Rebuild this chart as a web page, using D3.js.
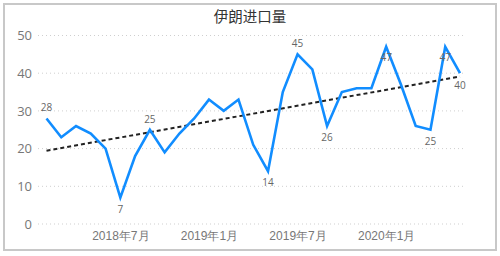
<!DOCTYPE html>
<html>
<head>
<meta charset="utf-8">
<script src="https://cdn.jsdelivr.net/npm/d3@7/dist/d3.min.js"></script>
<style>
  body { margin: 0; background: #fff; }
  svg { display: block; font-family: "Open Sans", "Noto Sans CJK SC", sans-serif; }
  .frame { fill: #fff; stroke: #c8c8c8; stroke-width: 2; }
  .grid line { stroke: #cfcfcf; stroke-dasharray: 1 3; }
  .axis text { fill: #777; }
  .axis path, .axis line { display: none; }
  .lbl { fill: #666; font-size: 10px; text-anchor: middle; }
</style>
</head>
<body>
<svg width="500" height="256"></svg>
<script>
// months from 2018-02 to 2020-06
const months = ['2018-02','2018-03','2018-04','2018-05','2018-06','2018-07','2018-08','2018-09','2018-10','2018-11','2018-12',
  '2019-01','2019-02','2019-03','2019-04','2019-05','2019-06','2019-07','2019-08','2019-09','2019-10','2019-11','2019-12',
  '2020-01','2020-02','2020-03','2020-04','2020-05','2020-06'];
const values = [28, 23, 26, 24, 20, 7, 18, 25, 19, 24, 28,
  33, 30, 33, 21, 14, 35, 45, 41, 26, 35, 36, 36,
  47, 37, 26, 25, 47, 40];
const xTicks = ['2018-07', '2019-01', '2019-07', '2020-01'];
const yTicks = [0, 10, 20, 30, 40, 50];
// which points carry a label, and where: 'a' above, 'b' below, 'r' below right
const labelled = [[0,'a'],[5,'b'],[7,'a'],[15,'b'],[17,'a'],[19,'b'],[23,'i'],[26,'b'],[27,'i'],[28,'r']];

const svg = d3.select('svg');
svg.append('rect').attr('class', 'frame').attr('x', 4).attr('y', 4).attr('width', 492).attr('height', 246);

svg.append('text')
  .attr('x', 250).attr('y', 22)
  .attr('text-anchor', 'middle')
  .attr('font-size', 14.5)
  .attr('fill', '#333')
  .text('伊朗进口量');

const x = d3.scalePoint().domain(months).range([46.5, 460]);
const y = d3.scaleLinear().domain([0, 50]).range([224, 35.5]);

// gridlines
svg.append('g').attr('class', 'grid')
  .selectAll('line').data(yTicks).enter().append('line')
  .attr('x1', 38).attr('x2', 465)
  .attr('y1', d => y(d)).attr('y2', d => y(d));

// y axis
svg.append('g').attr('class', 'axis')
  .attr('transform', 'translate(32,0)')
  .call(d3.axisLeft(y).tickValues(yTicks).tickSize(0).tickPadding(0))
  .selectAll('text').attr('font-size', 13).attr('font-family', '"Open Sans", sans-serif');

// x axis
svg.append('g').attr('class', 'axis')
  .attr('transform', 'translate(0,228)')
  .call(d3.axisBottom(x).tickValues(xTicks).tickSize(0).tickPadding(3)
    .tickFormat(m => { const [yy, mm] = m.split('-'); return yy + '年' + (+mm) + '月'; }))
  .selectAll('text').attr('font-size', 12);

// trend line (least squares)
const n = values.length;
const mx = d3.mean(values, (v, i) => i);
const my = d3.mean(values);
const slope = d3.sum(values, (v, i) => (i - mx) * (v - my)) / d3.sum(values, (v, i) => (i - mx) * (i - mx));
const icpt = my - slope * mx;
svg.append('line')
  .attr('x1', x(months[0])).attr('y1', y(icpt))
  .attr('x2', x(months[n - 1])).attr('y2', y(icpt + slope * (n - 1)))
  .attr('stroke', '#222').attr('stroke-width', 2).attr('stroke-dasharray', '4 3');

// series line
const line = d3.line()
  .x((v, i) => x(months[i]))
  .y(v => y(v));
svg.append('path')
  .datum(values)
  .attr('d', line)
  .attr('fill', 'none')
  .attr('stroke', '#118DFF')
  .attr('stroke-width', 2.6)
  .attr('stroke-linejoin', 'miter');

// data labels
const off = { a: [0, -7], b: [0, 15], i: [0, 14], r: [0, 16] };
svg.append('g').selectAll('text').data(labelled).enter().append('text')
  .attr('class', 'lbl')
  .attr('x', d => x(months[d[0]]) + off[d[1]][0])
  .attr('y', d => y(values[d[0]]) + off[d[1]][1])
  .text(d => values[d[0]]);
</script>
</body>
</html>
